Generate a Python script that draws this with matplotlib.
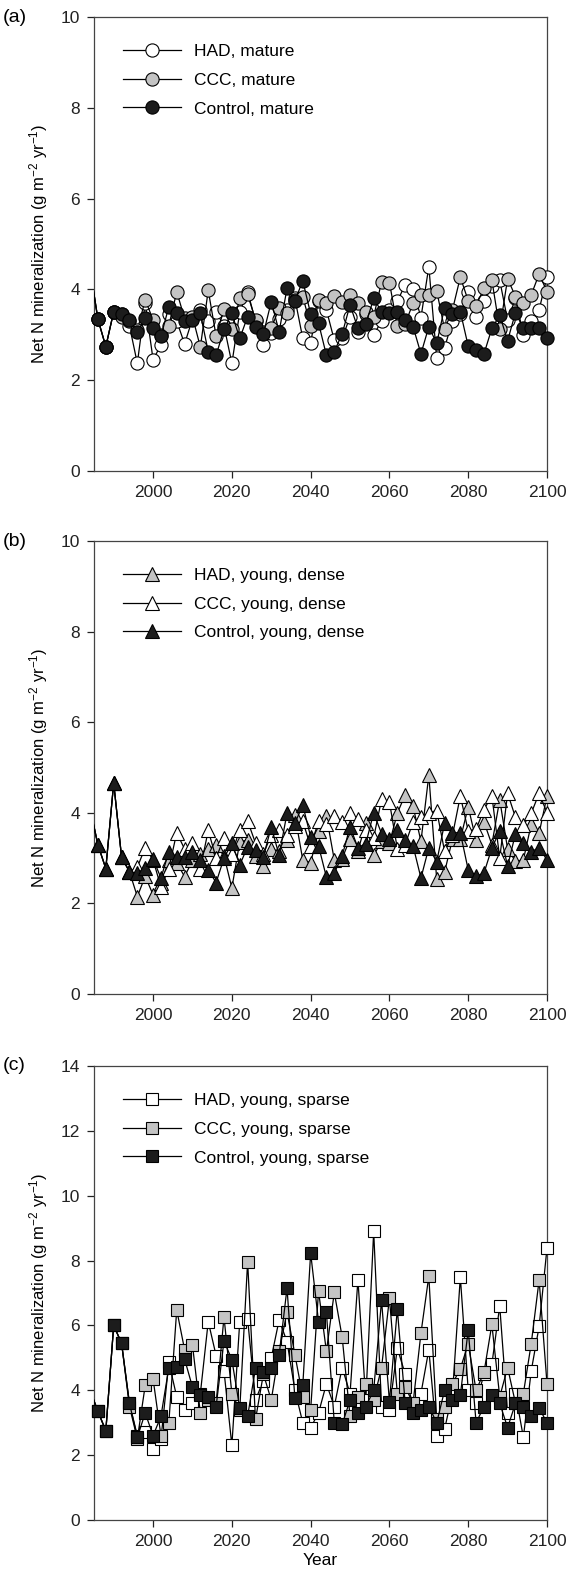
import matplotlib
matplotlib.use("Agg")
import matplotlib.pyplot as plt
from matplotlib.lines import Line2D

plt.rcParams['font.family'] = ['Liberation Sans', 'DejaVu Sans']
plt.rcParams['mathtext.fontset'] = 'custom'
plt.rcParams['mathtext.rm'] = 'Liberation Sans'
plt.rcParams['mathtext.it'] = 'Liberation Sans:italic'

# every second year, 1984 .. 2100 (1984 sits just outside the axis)
years = list(range(1984, 2101, 2))

# (a) mature stand
had_mature = [4.45, 3.34, 2.74, 3.51, 3.46, 3.20, 2.37, 3.70, 2.45, 2.78,
              3.45, 3.30, 2.80, 3.35, 3.55, 3.30, 3.50, 3.20, 2.37, 3.50,
              3.95, 3.30, 2.77, 3.05, 3.35, 3.55, 3.80, 2.92, 2.83, 3.75,
              3.55, 2.88, 2.92, 3.40, 3.07, 3.45, 3.00, 3.30, 3.55, 3.74,
              4.10, 4.00, 3.38, 4.50, 2.49, 2.72, 3.30, 3.45, 3.95, 3.40,
              3.74, 4.08, 4.20, 3.32, 3.80, 3.00, 3.30, 3.55, 4.28]
ccc_mature = [4.45, 3.34, 2.74, 3.51, 3.40, 3.30, 3.10, 3.77, 3.33, 3.00,
              3.20, 3.95, 3.36, 3.40, 2.73, 3.98, 2.97, 3.56, 3.12, 3.80,
              3.89, 3.33, 3.07, 3.15, 3.58, 3.47, 3.77, 3.84, 3.20, 3.77,
              3.70, 3.86, 3.72, 3.88, 3.70, 3.51, 3.40, 4.17, 4.15, 3.20,
              3.24, 3.70, 3.88, 3.88, 3.97, 3.12, 3.55, 4.27, 3.75, 3.64,
              4.03, 4.21, 3.12, 4.24, 3.84, 3.70, 3.88, 4.34, 3.95]
ctl_mature = [4.45, 3.34, 2.74, 3.51, 3.46, 3.33, 3.07, 3.36, 3.16, 2.97,
              3.62, 3.49, 3.31, 3.33, 3.47, 2.63, 2.55, 3.12, 3.47, 2.92,
              3.40, 3.18, 3.02, 3.73, 3.07, 4.02, 3.75, 4.19, 3.46, 3.26,
              2.55, 2.63, 3.02, 3.66, 3.14, 3.24, 3.80, 3.51, 3.47, 3.51,
              3.33, 3.18, 2.58, 3.18, 2.81, 3.60, 3.46, 3.51, 2.75, 2.66,
              2.58, 3.14, 3.43, 2.87, 3.49, 3.14, 3.14, 3.14, 2.94]

# (b) young, dense stand
had_dense = [4.10, 3.29, 2.77, 4.66, 3.02, 2.70, 2.15, 2.60, 2.19, 2.45,
             2.95, 2.90, 2.59, 2.95, 3.10, 3.21, 3.28, 3.05, 2.34, 3.36,
             3.40, 3.05, 2.82, 3.20, 3.15, 3.40, 3.95, 2.96, 2.90, 3.60,
             3.93, 2.96, 2.99, 3.43, 3.16, 3.77, 3.06, 3.37, 3.33, 3.99,
             4.40, 4.14, 3.37, 4.83, 2.53, 2.69, 3.42, 3.42, 4.13, 3.39,
             3.80, 3.30, 4.29, 3.20, 2.93, 2.96, 3.75, 3.55, 4.37]
ccc_dense = [4.10, 3.29, 2.77, 4.66, 3.02, 2.70, 2.80, 3.23, 2.96, 2.36,
             2.77, 3.56, 3.20, 3.33, 2.77, 3.61, 3.00, 3.45, 3.10, 3.63,
             3.82, 3.33, 3.09, 3.51, 3.63, 3.50, 3.70, 3.81, 3.26, 3.81,
             3.76, 3.93, 3.80, 3.99, 3.86, 3.63, 3.45, 4.30, 4.24, 3.21,
             3.30, 3.80, 3.90, 4.00, 4.05, 3.15, 3.50, 4.37, 3.60, 3.64,
             4.07, 4.38, 3.00, 4.43, 3.90, 3.73, 3.99, 4.43, 4.00]
ctl_dense = [4.10, 3.29, 2.77, 4.66, 3.02, 2.70, 2.67, 2.78, 2.98, 2.56,
             3.14, 3.03, 3.03, 3.14, 2.96, 2.74, 2.46, 3.00, 3.33, 2.85,
             3.25, 3.17, 3.03, 3.69, 3.06, 3.99, 3.77, 4.17, 3.47, 3.27,
             2.58, 2.67, 3.05, 3.69, 3.23, 3.32, 4.00, 3.54, 3.43, 3.63,
             3.40, 3.27, 2.56, 3.23, 2.92, 3.77, 3.56, 3.56, 2.74, 2.60,
             2.67, 3.22, 3.60, 2.82, 3.54, 3.34, 3.14, 3.23, 2.96]

# (c) young, sparse stand
had_sparse = [4.00, 3.35, 2.75, 6.00, 5.45, 3.60, 2.60, 2.70, 2.20, 2.50,
              4.86, 3.80, 3.40, 3.60, 3.90, 6.12, 5.07, 4.60, 2.30, 6.12,
              6.20, 3.70, 4.30, 5.00, 6.17, 5.50, 4.00, 3.00, 2.85, 3.30,
              4.20, 3.50, 4.70, 3.90, 7.41, 3.70, 8.90, 3.50, 3.40, 5.30,
              4.50, 3.50, 3.90, 5.25, 2.60, 2.80, 3.90, 7.49, 4.00, 3.60,
              4.50, 4.80, 6.60, 3.30, 3.90, 2.55, 4.60, 5.97, 8.39]
ccc_sparse = [4.00, 3.35, 2.75, 6.00, 5.45, 3.50, 2.50, 4.15, 4.35, 2.60,
              3.00, 6.48, 5.25, 5.40, 3.30, 3.70, 3.60, 6.26, 3.90, 3.40,
              7.97, 3.10, 4.50, 3.70, 5.20, 6.42, 5.10, 3.80, 3.40, 7.06,
              5.20, 7.02, 5.64, 3.20, 3.80, 4.20, 3.70, 4.70, 6.84, 3.90,
              4.10, 3.60, 5.76, 7.52, 3.10, 3.50, 4.20, 4.67, 5.43, 4.00,
              4.55, 6.03, 3.80, 4.70, 3.60, 3.90, 5.44, 7.40, 4.20]
ctl_sparse = [4.00, 3.35, 2.75, 6.00, 5.45, 3.60, 2.55, 3.30, 2.60, 3.20,
              4.70, 4.71, 4.96, 4.10, 3.85, 3.80, 3.50, 5.53, 4.94, 3.45,
              3.20, 4.68, 4.57, 4.68, 5.09, 7.15, 3.75, 4.15, 8.23, 6.12,
              6.40, 3.00, 2.95, 3.70, 3.30, 3.50, 4.00, 6.77, 3.65, 6.50,
              3.60, 3.30, 3.40, 3.50, 3.00, 4.00, 3.70, 3.85, 5.86, 3.00,
              3.50, 3.85, 3.60, 2.85, 3.60, 3.50, 3.20, 3.45, 3.00]

GREY = '#c4c4c4'
BLACK = '#1c1c1c'
WHITE = 'white'

panels = [
    ('(a)', 'o', 9.5, 10, [0, 2, 4, 6, 8, 10],
     [('HAD, mature', had_mature, WHITE),
      ('CCC, mature', ccc_mature, GREY),
      ('Control, mature', ctl_mature, BLACK)]),
    ('(b)', '^', 9.5, 10, [0, 2, 4, 6, 8, 10],
     [('HAD, young, dense', had_dense, GREY),
      ('CCC, young, dense', ccc_dense, WHITE),
      ('Control, young, dense', ctl_dense, BLACK)]),
    ('(c)', 's', 8.5, 14, [0, 2, 4, 6, 8, 10, 12, 14],
     [('HAD, young, sparse', had_sparse, WHITE),
      ('CCC, young, sparse', ccc_sparse, GREY),
      ('Control, young, sparse', ctl_sparse, BLACK)]),
]

fig = plt.figure(figsize=(5.70, 15.79), dpi=100)
left, width = 94 / 570, 453 / 570
tops = [17, 541, 1066]
bottoms = [471, 994, 1520]

for i, (label, mk, ms, ymax, yticks, series) in enumerate(panels):
    b = 1 - bottoms[i] / 1579
    h = (bottoms[i] - tops[i]) / 1579
    ax = fig.add_axes([left, b, width, h])

    handles = []
    for j, (name, vals, fc) in enumerate(series):
        z = 3 + 2 * j
        ax.plot(years, vals, color='black', lw=0.9, zorder=z)
        ax.plot(years[1:], vals[1:], ls='none', marker=mk, ms=ms,
                mfc=fc, mec='black', mew=0.8, zorder=z + 1, clip_on=False)
        handles.append(Line2D([], [], color='black', lw=0.9, marker=mk,
                              ms=ms, mfc=fc, mec='black', mew=0.8))

    ax.set_xlim(1985, 2100)
    ax.set_ylim(0, ymax)
    ax.set_xticks([2000, 2020, 2040, 2060, 2080, 2100])
    ax.set_yticks(yticks)
    ax.tick_params(direction='out', length=5, width=0.9, labelsize=12.5,
                   colors='#222222', pad=5)
    for s in ax.spines.values():
        s.set_linewidth(0.9)
        s.set_color('#444444')
    ax.set_ylabel('Net N mineralization (g m$^{-2}$ yr$^{-1}$)', fontsize=12,
                  labelpad=8)

    ax.legend(handles, [s[0] for s in series], loc='upper left',
              bbox_to_anchor=(0.03, 0.975), frameon=False, fontsize=12.5,
              handlelength=3.3, labelspacing=0.78, handletextpad=0.8)

    fig.text(0.005, 1 - tops[i] / 1579, label, fontsize=14, va='center',
             ha='left')

    if i == 2:
        ax.set_xlabel('Year', fontsize=12.5, labelpad=3)

fig.savefig('out.png', dpi=100)
